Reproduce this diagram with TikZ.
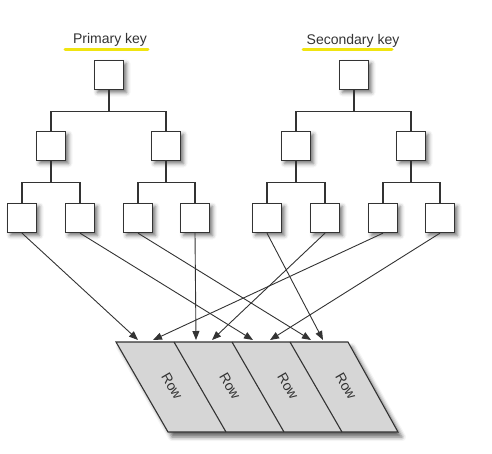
\documentclass[tikz,border=0pt]{standalone}
\usepackage{fontspec}
\setmainfont{Liberation Sans}
\usetikzlibrary{arrows.meta, calc, shadows, shadows.blur}
\definecolor{keyline}{HTML}{333333}
\definecolor{keymark}{HTML}{F0E410}
\definecolor{rowgray}{HTML}{D6D6D6}

\begin{document}
\begin{tikzpicture}[
    x=1pt, y=-1pt,
    keybox/.style={rectangle, draw=keyline, fill=white, line width=1.3pt, minimum size=29pt, inner sep=0pt, blur shadow={shadow xshift=3pt, shadow yshift=-3pt, shadow blur radius=4pt, shadow opacity=55}},
    link/.style={draw=keyline, line width=1.1pt},
    arrow/.style={-{Triangle[length=9pt, width=7pt]}, draw=keyline, line width=0.9pt},
    title/.style={font=\fontsize{14}{16}\selectfont, text=keyline, anchor=base, inner sep=0pt},
    highlight/.style={draw=keymark, line width=3pt, line cap=round},
    rowtext/.style={font=\fontsize{14}{16}\selectfont, text=keyline, rotate=-60, inner sep=0pt}
]
\useasboundingbox (0,0) rectangle (492,453);

% key labels
\draw[highlight] (65,49) -- (148,49);
\draw[highlight] (303,49) -- (392,49);
\node[title] (ptitle) at (110,43) {Primary key};
\node[title] (stitle) at (353,44) {Secondary key};

% primary key tree
\node[keybox] (p) at (109,75) {};
\node[keybox] (p1) at (51,146) {};
\node[keybox] (p2) at (166,146) {};
\node[keybox] (p11) at (22,218) {};
\node[keybox] (p12) at (80,218) {};
\node[keybox] (p21) at (138,218) {};
\node[keybox] (p22) at (195,218) {};

% secondary key tree
\node[keybox] (s) at (354,75) {};
\node[keybox] (s1) at (296,146) {};
\node[keybox] (s2) at (411,146) {};
\node[keybox] (s11) at (267,218) {};
\node[keybox] (s12) at (325,218) {};
\node[keybox] (s21) at (383,218) {};
\node[keybox] (s22) at (440,218) {};

\foreach \a/\b in {p/p1, p/p2, p1/p11, p1/p12, p2/p21, p2/p22,
                   s/s1, s/s2, s1/s11, s1/s12, s2/s21, s2/s22}
  \draw[link] (\a.south) -- ++(0,21) -| (\b.north);

% rows
\draw[draw=keyline, line width=1.1pt, fill=rowgray, blur shadow={shadow xshift=4pt, shadow yshift=-5pt, shadow blur radius=4pt, shadow opacity=60}]
  (116,342) -- (348,342) -- (398,432) -- (168,432) -- cycle;
\foreach \k in {1,2,3}
  \draw[link] (116+58*\k,342) -- (168+58*\k,432);
\foreach \k in {0,1,2,3}
  \node[rowtext] (row\k) at (172+58*\k,386) {Row};

% arrow targets on the row edge
\foreach \n/\x in {1/138, 2/153, 3/196, 4/212, 5/253, 6/270, 7/311, 8/323}
  \coordinate (t\n) at (\x,340);

\draw[arrow] (p11.south) -- (t1);
\draw[arrow] (p12.south) -- (t5);
\draw[arrow] (p21.south) -- (t7);
\draw[arrow] (p22.south) -- (t3);
\draw[arrow] (s11.south) -- (t8);
\draw[arrow] (s12.south) -- (t4);
\draw[arrow] (s21.south) -- (t2);
\draw[arrow] (s22.south) -- (t6);

\end{tikzpicture}
\end{document}
